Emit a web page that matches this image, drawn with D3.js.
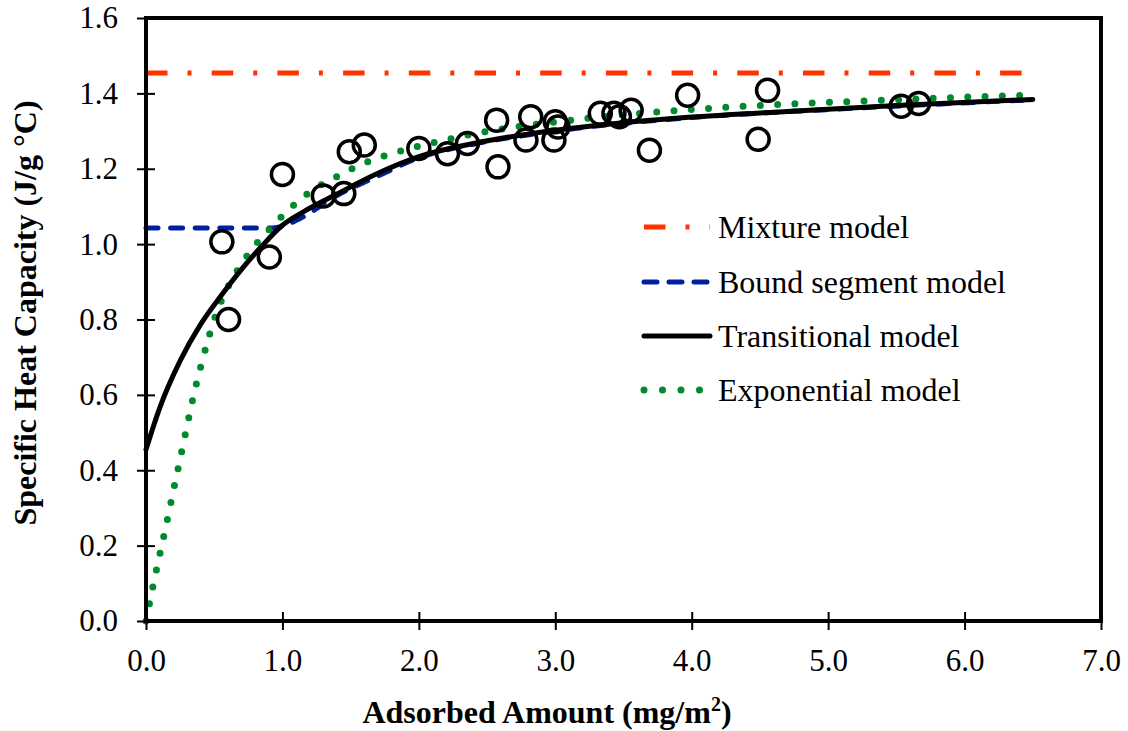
<!DOCTYPE html>
<html>
<head>
<meta charset="utf-8">
<script src="https://cdn.jsdelivr.net/npm/d3@7"></script>
<style>
  html, body { margin: 0; padding: 0; background: #fff; }
  svg { display: block; }
  text { font-family: "Liberation Serif", "Times New Roman", serif; fill: #000; }
</style>
</head>
<body>
<svg id="chart" width="1128" height="731"></svg>
<script>
// ---- Data ----
const xTicks = [0, 1, 2, 3, 4, 5, 6, 7];
const yTicks = [0, 0.2, 0.4, 0.6, 0.8, 1.0, 1.2, 1.4, 1.6];

const pointX = [0.556, 0.605, 0.904, 1.0, 1.30, 1.45, 1.49, 1.60, 2.0, 2.21, 2.356, 2.57, 2.58, 2.785, 2.82, 2.99, 3.0, 3.02, 3.33, 3.43, 3.47, 3.556, 3.69, 3.97, 4.487, 4.556, 5.535, 5.663];
const pointY = [1.006, 0.80, 0.966, 1.185, 1.128, 1.134, 1.245, 1.263, 1.254, 1.24, 1.267, 1.329, 1.205, 1.276, 1.338, 1.276, 1.325, 1.311, 1.347, 1.347, 1.338, 1.355, 1.249, 1.395, 1.278, 1.408, 1.366, 1.373];

const mixtureX = [0, 6.44];
const mixtureY = [1.454, 1.454];

const boundX = [0, 0.93, 1.13, 1.376, 1.72, 2.0, 2.4, 3.0, 4.0, 5.0, 6.5];
const boundY = [1.043, 1.043, 1.068, 1.124, 1.184, 1.229, 1.265, 1.300, 1.336, 1.357, 1.383];

const transX = [0, 0.1, 0.25, 0.4, 0.55, 0.7, 0.85, 1.0, 1.15, 1.4, 1.7, 2.0, 2.4, 3.0, 3.5, 4.0, 4.8, 5.5, 6.5];
const transY = [0.455, 0.565, 0.69, 0.787, 0.863, 0.933, 0.995, 1.05, 1.085, 1.133, 1.188, 1.232, 1.267, 1.302, 1.322, 1.337, 1.354, 1.368, 1.384];

const expX = [0, 0.05, 0.1, 0.15, 0.2, 0.25, 0.3, 0.35, 0.4, 0.45, 0.5, 0.6, 0.7, 0.8, 0.9, 1.0, 1.2, 1.4, 1.6, 1.8, 2.0, 2.2, 2.5, 3.0, 3.5, 4.0, 4.5, 5.0, 5.5, 6.0, 6.45];
const expY = [0, 0.09, 0.175, 0.258, 0.345, 0.43, 0.516, 0.60, 0.673, 0.74, 0.80, 0.886, 0.947, 0.997, 1.037, 1.075, 1.138, 1.179, 1.215, 1.24, 1.26, 1.277, 1.299, 1.324, 1.343, 1.357, 1.368, 1.376, 1.383, 1.39, 1.395];

const legendLabels = ["Mixture model", "Bound segment model", "Transitional model", "Exponential model"];

// ---- Layout ----
const W = 1128, H = 731;
const margin = { left: 146, top: 18, right: 27, bottom: 110 };
const svg = d3.select("#chart");

const x = d3.scaleLinear().domain([0, 7]).range([margin.left, W - margin.right]);
const y = d3.scaleLinear().domain([0, 1.6]).range([H - margin.bottom, margin.top]);

const zip = (a, b) => a.map((v, i) => [v, b[i]]);
const line = d3.line().x(d => x(d[0])).y(d => y(d[1])).curve(d3.curveMonotoneX);

const styles = {
  mixture: { stroke: "#ff3300", width: 5, dash: "21.5,20,4,20.2", cap: "butt" },
  bound:   { stroke: "#0020a0", width: 5, dash: "12,12.6", cap: "round" },
  trans:   { stroke: "#000000", width: 5, dash: null, cap: "round" },
  exp:     { stroke: "#008a2e", width: 7, dash: "0,17.3", cap: "round" }
};

function drawPath(g, data, st) {
  g.append("path")
    .datum(data)
    .attr("d", line)
    .attr("fill", "none")
    .attr("stroke", st.stroke)
    .attr("stroke-width", st.width)
    .attr("stroke-linecap", st.cap)
    .attr("stroke-dasharray", st.dash);
}

const plot = svg.append("g");
drawPath(plot, zip(mixtureX, mixtureY), styles.mixture);
drawPath(plot, zip(boundX, boundY), styles.bound);
drawPath(plot, zip(expX, expY), styles.exp);
drawPath(plot, zip(transX, transY), styles.trans);

plot.selectAll("circle.pt")
  .data(zip(pointX, pointY))
  .enter().append("circle")
  .attr("class", "pt")
  .attr("cx", d => x(d[0]))
  .attr("cy", d => y(d[1]))
  .attr("r", 11)
  .attr("fill", "none")
  .attr("stroke", "#000")
  .attr("stroke-width", 3.5);

// Axes (ticks crossing the axis line)
const xAxis = d3.axisBottom(x).tickValues(xTicks).tickFormat(d3.format(".1f")).tickSizeInner(9).tickSizeOuter(0).tickPadding(19);
const yAxis = d3.axisLeft(y).tickValues(yTicks).tickFormat(d3.format(".1f")).tickSizeInner(9).tickSizeOuter(0).tickPadding(19);

const gx = svg.append("g").attr("transform", `translate(0,${y(0)})`).call(xAxis);
const gy = svg.append("g").attr("transform", `translate(${x(0)},0)`).call(yAxis);

[gx, gy].forEach(g => {
  g.select(".domain").remove();
  g.selectAll(".tick line").attr("stroke", "#000").attr("stroke-width", 2);
  g.selectAll(".tick text").style("font-family", "'Liberation Serif', 'Times New Roman', serif").style("font-size", "31px").attr("fill", "#000");
});
gx.selectAll(".tick line").attr("y1", -9);
gy.selectAll(".tick line").attr("x1", 9);

// Frame
svg.append("rect")
  .attr("x", x(0)).attr("y", y(1.6))
  .attr("width", x(7) - x(0)).attr("height", y(0) - y(1.6))
  .attr("fill", "none").attr("stroke", "#000").attr("stroke-width", 4);

// Axis titles
const xt = svg.append("text")
  .attr("x", 547).attr("y", 723)
  .attr("text-anchor", "middle")
  .style("font-size", "32px").style("font-weight", "bold");
xt.append("tspan").text("Adsorbed Amount (mg/m");
xt.append("tspan").text("2").attr("dy", -12).style("font-size", "20px");
xt.append("tspan").text(")").attr("dy", 12);

svg.append("text")
  .attr("transform", `translate(36,${313}) rotate(-90)`)
  .attr("text-anchor", "middle")
  .style("font-size", "32px").style("font-weight", "bold")
  .text("Specific Heat Capacity (J/g \u00B0C)");

// Legend
const legendStyles = [styles.mixture, styles.bound, styles.trans, styles.exp];
const legendRowY = [227, 282, 336, 390];
const lg = svg.append("g");
legendLabels.forEach((lab, i) => {
  const st = legendStyles[i];
  lg.append("line")
    .attr("x1", 644).attr("x2", i === 3 ? 700 : 710)
    .attr("y1", legendRowY[i]).attr("y2", legendRowY[i])
    .attr("stroke", st.stroke).attr("stroke-width", st.width)
    .attr("stroke-linecap", st.cap)
    .attr("stroke-dasharray", i === 0 ? "21.5,20,4,20" : (i === 1 ? "13,12" : (i === 3 ? "0,18.5" : null)));
  lg.append("text")
    .attr("x", 718).attr("y", legendRowY[i] + 11)
    .style("font-size", "32px")
    .text(lab);
});
</script>
</body>
</html>
